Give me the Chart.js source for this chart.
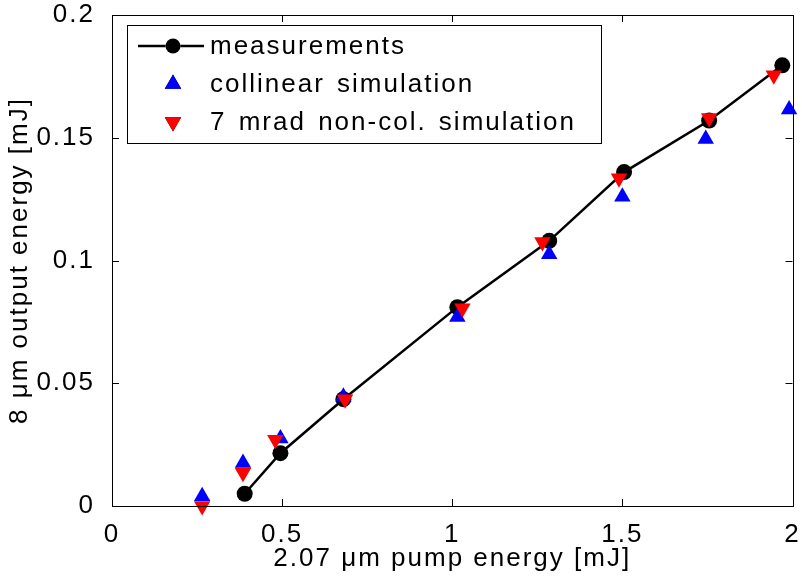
<!DOCTYPE html>
<html>
<head>
<meta charset="utf-8">
<script src="https://cdn.jsdelivr.net/npm/chart.js@4"></script>
<style>
  html, body { margin: 0; padding: 0; background: #fff; }
  #wrap { width: 802px; height: 583px; }
</style>
</head>
<body>
<div id="wrap"><canvas id="chart" width="802" height="583"></canvas></div>
<script>
// measured output vs pump energy
const pumpMeas = [0.39, 0.495, 0.68, 1.015, 1.285, 1.505, 1.755, 1.97];
const outMeas = [0.005, 0.0215, 0.0435, 0.081, 0.108, 0.136, 0.157, 0.1795];

// collinear simulation
const pumpColl = [0.265, 0.385, 0.495, 0.68, 1.015, 1.285, 1.5, 1.745, 1.99];
const outColl = [0.004, 0.0175, 0.0275, 0.0445, 0.077, 0.1025, 0.126, 0.1495, 0.1615];

// 7 mrad non-collinear simulation
const pumpNonCol = [0.265, 0.385, 0.48, 0.685, 1.03, 1.265, 1.49, 1.755, 1.945];
const outNonCol = [0.0, 0.0135, 0.027, 0.0435, 0.0805, 0.1075, 0.1335, 0.158, 0.1755];

const seriesNames = ['measurements', 'collinear simulation', '7 mrad non-col. simulation'];
const xTickLabels = ['0', '0.5', '1', '1.5', '2'];
const yTickLabels = ['0', '0.05', '0.1', '0.15', '0.2'];

const FONT = { family: '"Liberation Sans", Arial, sans-serif', size: 26 };
const SPACING = '2px';

const toPoints = (xs, ys) => xs.map((x, i) => ({ x: x, y: ys[i] }));

// MATLAB-ish spacing on every text the canvas draws
const spacingPlugin = {
    id: 'spacing',
    beforeLayout(chart) { chart.ctx.letterSpacing = SPACING; },
    beforeDraw(chart) { chart.ctx.letterSpacing = SPACING; }
};

// box round the axes with inward ticks on all four sides
const boxPlugin = {
    id: 'box',
    afterDatasetsDraw(chart) {
        const { ctx, chartArea: a, scales } = chart;
        const len = 7;
        ctx.save();
        ctx.strokeStyle = '#000';
        ctx.lineWidth = 1;
        ctx.beginPath();
        scales.x.ticks.forEach(t => {
            const px = Math.round(scales.x.getPixelForValue(t.value)) + 0.5;
            ctx.moveTo(px, a.bottom); ctx.lineTo(px, a.bottom - len);
            ctx.moveTo(px, a.top); ctx.lineTo(px, a.top + len);
        });
        scales.y.ticks.forEach(t => {
            const py = Math.round(scales.y.getPixelForValue(t.value)) + 0.5;
            ctx.moveTo(a.left, py); ctx.lineTo(a.left + len, py);
            ctx.moveTo(a.right, py); ctx.lineTo(a.right - len, py);
        });
        ctx.stroke();
        ctx.strokeRect(Math.round(a.left) + 0.5, Math.round(a.top) + 0.5,
            Math.round(a.right - a.left), Math.round(a.bottom - a.top));
        ctx.restore();
    }
};

// legend box inside the axes, top left
const legendPlugin = {
    id: 'boxLegend',
    afterDraw(chart) {
        const { ctx, chartArea: a } = chart;
        const x0 = a.left + 15, y0 = a.top + 10, w = 474, h = 118;
        ctx.save();
        ctx.letterSpacing = SPACING;
        ctx.wordSpacing = '3px';
        ctx.fillStyle = '#fff';
        ctx.fillRect(x0, y0, w, h);
        ctx.strokeStyle = '#000';
        ctx.lineWidth = 1;
        ctx.strokeRect(x0 + 0.5, y0 + 0.5, w, h);
        const rows = [y0 + 21, y0 + 59, y0 + 97];
        const mx = x0 + 46;
        chart.data.datasets.forEach((ds, i) => {
            const y = rows[i];
            if (ds.showLine) {
                ctx.strokeStyle = ds.borderColor;
                ctx.lineWidth = ds.borderWidth;
                ctx.beginPath();
                ctx.moveTo(x0 + 11, y); ctx.lineTo(x0 + 77, y);
                ctx.stroke();
            }
            Chart.helpers.drawPoint(ctx, {
                pointStyle: ds.pointStyle,
                rotation: ds.rotation || 0,
                radius: ds.legendRadius,
                borderWidth: 0
            }, mx, y);
            ctx.fillStyle = ds.backgroundColor;
            ctx.fill();
            ctx.fillStyle = '#000';
            ctx.font = FONT.size + 'px ' + FONT.family;
            ctx.textBaseline = 'middle';
            ctx.textAlign = 'left';
            ctx.fillText(ds.label, x0 + 83, y + 1);
        });
        ctx.restore();
    }
};

new Chart(document.getElementById('chart'), {
    type: 'scatter',
    data: {
        datasets: [
            {
                label: seriesNames[0],
                data: toPoints(pumpMeas, outMeas),
                showLine: true,
                borderColor: '#000',
                borderWidth: 2.5,
                backgroundColor: '#000',
                pointStyle: 'circle',
                pointRadius: 8,
                legendRadius: 7.5,
                pointBorderWidth: 0,
                order: 3,
                clip: false
            },
            {
                label: seriesNames[1],
                data: toPoints(pumpColl, outColl),
                backgroundColor: '#0000ff',
                pointStyle: 'triangle',
                pointRadius: 9.5,
                legendRadius: 9.5,
                pointBorderWidth: 0,
                order: 2,
                clip: false
            },
            {
                label: seriesNames[2],
                data: toPoints(pumpNonCol, outNonCol),
                backgroundColor: '#ff0000',
                pointStyle: 'triangle',
                rotation: 180,
                pointRotation: 180,
                pointRadius: 9.5,
                legendRadius: 9.5,
                pointBorderWidth: 0,
                order: 1,
                clip: false
            }
        ]
    },
    options: {
        responsive: false,
        animation: false,
        devicePixelRatio: 1,
        layout: { padding: { top: 15, right: 5, left: 0, bottom: 0 } },
        plugins: {
            legend: { display: false },
            tooltip: { enabled: false }
        },
        scales: {
            x: {
                type: 'linear',
                min: 0,
                max: 2,
                grid: { display: false },
                border: { display: false },
                ticks: {
                    stepSize: 0.5,
                    color: '#000',
                    font: FONT,
                    padding: 5,
                    maxRotation: 0,
                    callback: (v, i) => xTickLabels[i]
                },
                title: {
                    display: true,
                    text: '2.07 \u03bcm pump energy [mJ]',
                    color: '#000',
                    font: FONT,
                    padding: { top: 0, bottom: 9 }
                },
                afterFit(scale) {
                    scale.height = 77;
                    scale.paddingLeft = 0;
                    scale.paddingRight = 0;
                }
            },
            y: {
                type: 'linear',
                min: 0,
                max: 0.2,
                grid: { display: false },
                border: { display: false },
                ticks: {
                    stepSize: 0.05,
                    color: '#000',
                    font: FONT,
                    padding: 9,
                    callback: (v, i) => yTickLabels[i]
                },
                title: {
                    display: true,
                    text: '8 \u03bcm output energy [mJ]',
                    color: '#000',
                    font: FONT,
                    padding: { top: 4, bottom: 0 }
                },
                afterFit(scale) {
                    scale.width = 112;
                    scale.paddingTop = 0;
                    scale.paddingBottom = 0;
                }
            }
        }
    },
    plugins: [spacingPlugin, boxPlugin, legendPlugin]
});
</script>
</body>
</html>
